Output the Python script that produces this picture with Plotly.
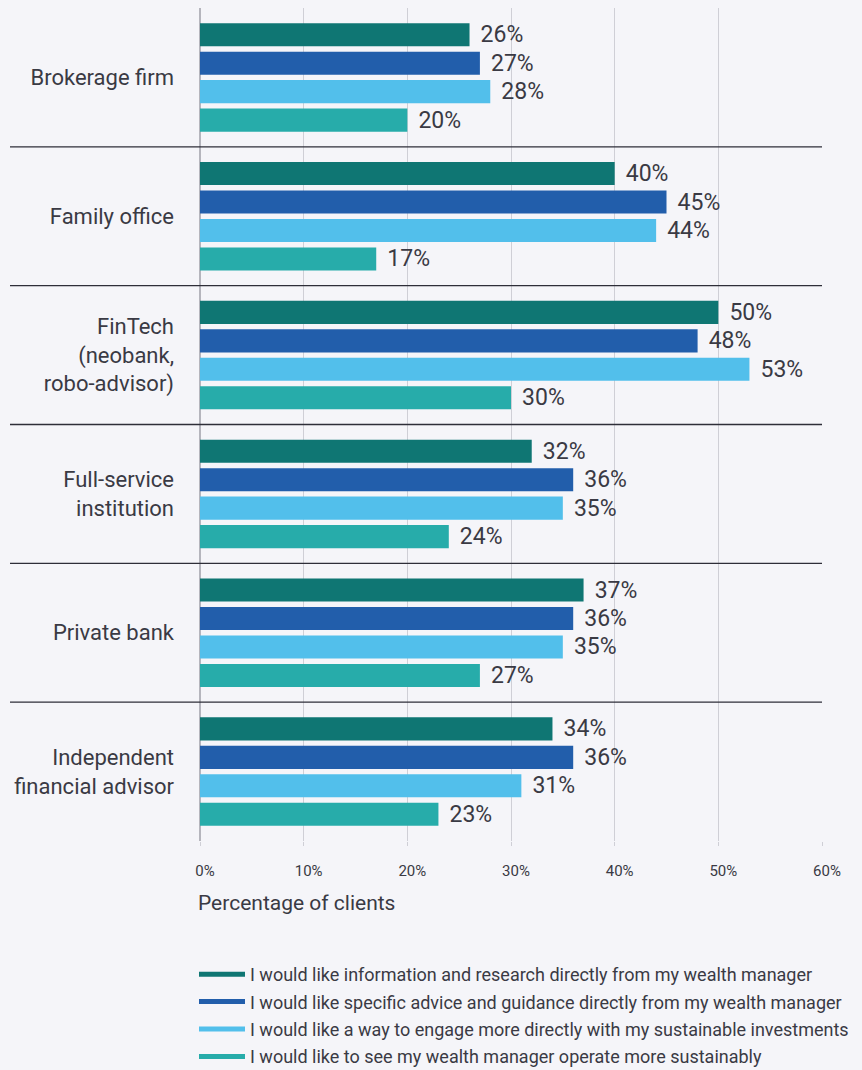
import plotly.graph_objects as go

categories = ["Brokerage firm", "Family office", "FinTech<br>(neobank,<br>robo-advisor)",
              "Full-service<br>institution", "Private bank", "Independent<br>financial advisor"]
series_names = [
    "I would like information and research directly from my wealth manager",
    "I would like specific advice and guidance directly from my wealth manager",
    "I would like a way to engage more directly with my sustainable investments",
    "I would like to see my wealth manager operate more sustainably",
]
info_research = [26, 40, 50, 32, 37, 34]
advice_guidance = [27, 45, 48, 36, 36, 36]
engage_directly = [28, 44, 53, 35, 35, 31]
operate_sustainably = [20, 17, 30, 24, 27, 23]
series_values = [info_research, advice_guidance, engage_directly, operate_sustainably]
colors = ["#0f7673", "#225eab", "#52bfeb", "#27acaa"]
tick_vals = [0, 10, 20, 30, 40, 50, 60]
tick_text = ["0%", "10%", "20%", "30%", "40%", "50%", "60%"]

FONT = "Roboto"
TEXT = "#3a3a44"
BG = "#f5f5f9"

fig = go.Figure()
for name, vals, col in zip(series_names, series_values, colors):
    fig.add_trace(go.Bar(
        y=categories, x=vals, orientation="h", name=name,
        marker=dict(color=col, line=dict(width=0)),
        text=["\u00a0\u200a" + f"{v}%" for v in vals], textposition="outside",
        textfont=dict(size=23, color=TEXT, family=FONT), constraintext="none",
        cliponaxis=False, showlegend=False, hoverinfo="x+y",
    ))
for i, (name, col) in enumerate(zip(series_names, colors)):
    fig.add_trace(go.Scatter(x=[None], y=[None], mode="lines", name=name,
                             legendgroup=f"g{i}",
                             line=dict(color=col, width=5), showlegend=True))

# separators between categories
for i in range(1, len(categories)):
    fig.add_shape(type="line", xref="paper", yref="y",
                  x0=(10 - 200) / 622, x1=1, y0=i - 0.5, y1=i - 0.5,
                  line=dict(color="#2e2e38", width=1.3), layer="above")

fig.add_annotation(text="Percentage of clients", xref="paper", yref="paper",
                   x=(196 - 200) / 622, y=(841 - 903) / 833, xanchor="left", yanchor="middle",
                   showarrow=False, font=dict(size=21, color=TEXT, family=FONT))

fig.update_layout(
    width=862, height=1070,
    margin=dict(l=200, r=40, t=8, b=229, autoexpand=False),
    paper_bgcolor=BG, plot_bgcolor=BG,
    barmode="group", bargap=0.18, bargroupgap=0.19,
    font=dict(family=FONT, color=TEXT),
    xaxis=dict(range=[0, 60], tickvals=tick_vals, ticktext=tick_text,
               showgrid=True, gridcolor="#cfcfd6", gridwidth=1,
               zeroline=True, zerolinecolor="#b5b5bd", zerolinewidth=1.5,
               ticks="outside", ticklen=4, tickcolor="#cfcfd6",
               tickfont=dict(size=15, color=TEXT, family=FONT),
               ticklabelshift=5, ticklabelstandoff=12, showline=False, fixedrange=True),
    yaxis=dict(autorange="reversed", showgrid=False, showline=False,
               tickfont=dict(size=22, color=TEXT, family=FONT), ticks="",
               ticklabelstandoff=25),
    legend=dict(x=(194 - 200) / 622, xanchor="left",
                yref="container", y=1 - 956 / 1070, yanchor="top",
                font=dict(size=18, color=TEXT, family=FONT), bgcolor="rgba(0,0,0,0)",
                tracegroupgap=1, itemwidth=46),
)

fig.write_html("out.html")
